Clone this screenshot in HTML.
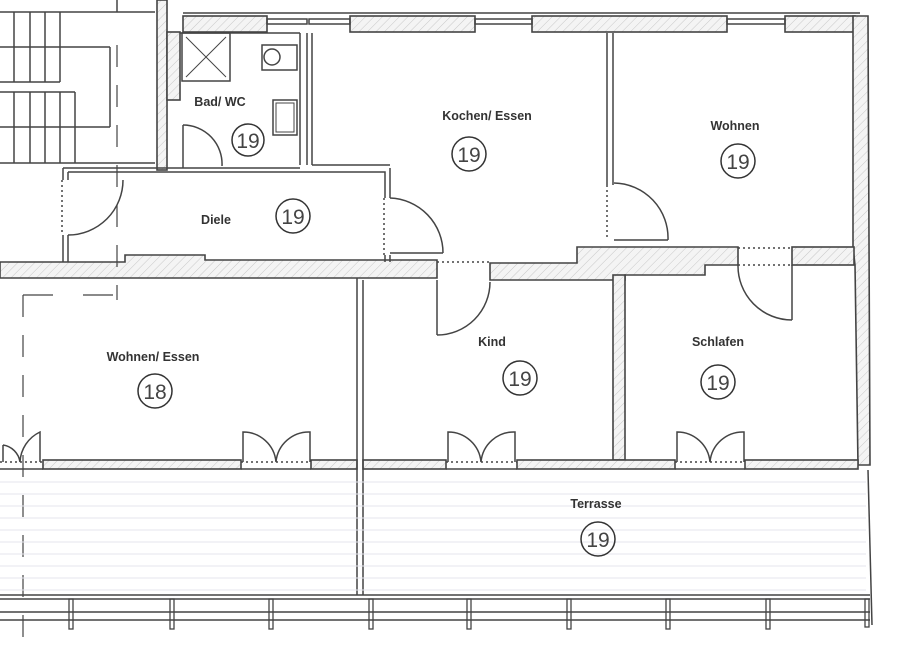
<!DOCTYPE html>
<html><head><meta charset="utf-8"><style>
html,body{margin:0;padding:0;background:#fff}
svg{display:block}
text{font-family:"Liberation Sans",sans-serif;fill:#333}
.l{font-size:12.5px;font-weight:bold;text-anchor:middle}
.n{font-size:21px;text-anchor:middle;fill:#444}
</style></head><body>
<svg width="900" height="653" viewBox="0 0 900 653" xmlns="http://www.w3.org/2000/svg">
<defs>
<pattern id="h" width="6" height="6" patternUnits="userSpaceOnUse" patternTransform="rotate(45)">
<rect width="6" height="6" fill="#f4f4f4"/><line x1="0" y1="0" x2="0" y2="6" stroke="#c8c8c8" stroke-width="1"/></pattern>
</defs>
<g stroke="#444" stroke-width="1.6" fill="url(#h)">
<rect x="157" y="0" width="10" height="170"/>
<rect x="167" y="32" width="13" height="68"/>
<rect x="183" y="16" width="84" height="16"/>
<rect x="350" y="16" width="125" height="16"/>
<rect x="532" y="16" width="195" height="16"/>
<rect x="785" y="16" width="70" height="16"/>
<polygon points="853,16 868,16 870,465 858,465 855,265 853,247"/>
<polygon points="0,262 125,262 125,255 205,255 205,260 437,260 437,278 0,278"/>
<polygon points="490,263 577,263 577,247 738,247 738,265 705,265 705,275 625,275 625,280 490,280"/>
<rect x="792" y="247" width="62" height="18"/>
<rect x="613" y="275" width="12" height="185"/>
<rect x="43" y="460" width="198" height="9"/>
<rect x="311" y="460" width="46" height="9"/>
<rect x="363" y="460" width="83" height="9"/>
<rect x="517" y="460" width="158" height="9"/>
<rect x="745" y="460" width="113" height="9"/>
</g>
<g stroke="#444" stroke-width="1.5" fill="none">
<line x1="183" y1="13" x2="860" y2="13"/>
<rect x="267" y="19" width="40" height="5"/><rect x="309" y="19" width="41" height="5"/>
<rect x="475" y="19" width="57" height="5"/>
<rect x="727" y="19" width="58" height="5"/>
<line x1="0" y1="12" x2="155" y2="12"/>
<line x1="0" y1="47" x2="110" y2="47"/><line x1="110" y1="47" x2="110" y2="127"/>
<line x1="0" y1="82" x2="60" y2="82"/>
<line x1="0" y1="92" x2="75" y2="92"/><line x1="75" y1="92" x2="75" y2="163"/>
<line x1="0" y1="127" x2="110" y2="127"/>
<line x1="0" y1="163" x2="155" y2="163"/>
<line x1="14" y1="12" x2="14" y2="82"/><line x1="30" y1="12" x2="30" y2="82"/><line x1="45" y1="12" x2="45" y2="82"/><line x1="60" y1="12" x2="60" y2="82"/>
<line x1="14" y1="92" x2="14" y2="163"/><line x1="30" y1="92" x2="30" y2="163"/><line x1="45" y1="92" x2="45" y2="163"/><line x1="60" y1="92" x2="60" y2="163"/>
<line x1="117" y1="0" x2="117" y2="12"/>
<line x1="117" y1="45" x2="117" y2="300" stroke-dasharray="22,18" stroke-width="1.2"/>
<line x1="23" y1="295" x2="23" y2="653" stroke-dasharray="22,18" stroke-width="1.2"/>
<line x1="23" y1="295" x2="117" y2="295" stroke-dasharray="30,30" stroke-width="1.2"/>
<line x1="180" y1="33" x2="300" y2="33"/>
<line x1="300" y1="33" x2="300" y2="165"/><line x1="307" y1="33" x2="307" y2="165"/>
<line x1="312" y1="33" x2="312" y2="165"/>
<rect x="182" y="33" width="48" height="48"/>
<line x1="186" y1="37" x2="226" y2="77" stroke-width="1"/><line x1="226" y1="37" x2="186" y2="77" stroke-width="1"/>
<rect x="262" y="45" width="35" height="25"/><circle cx="272" cy="57" r="8"/>
<rect x="273" y="100" width="24" height="35"/><rect x="276" y="103" width="18" height="29" stroke-width="1"/>
<line x1="183" y1="125" x2="183" y2="168"/>
<path d="M183,125 A39,39 0 0 1 222,166"/>
<polyline points="63,168 300,168"/>
<polyline points="68,172 385,172 385,198"/>
<polyline points="390,168 390,198"/>
<line x1="385" y1="255" x2="385" y2="262"/><line x1="390" y1="255" x2="390" y2="262"/>
<line x1="63" y1="168" x2="63" y2="180"/><line x1="68" y1="172" x2="68" y2="180"/>
<line x1="63" y1="235" x2="63" y2="262"/><line x1="68" y1="235" x2="68" y2="262"/>
<line x1="62" y1="180" x2="62" y2="235" stroke-dasharray="2,3"/>
<path d="M123,180 A55,55 0 0 1 68,235"/>
<line x1="384" y1="198" x2="384" y2="255" stroke-dasharray="2,3"/>
<line x1="390" y1="253" x2="443" y2="253"/>
<path d="M390,198 A55,55 0 0 1 443,253"/>
<polyline points="312,165 390,165"/>
<line x1="607" y1="33" x2="607" y2="185"/><line x1="613" y1="33" x2="613" y2="185"/>
<line x1="607" y1="185" x2="607" y2="240" stroke-dasharray="2,3"/>
<line x1="614" y1="240" x2="668" y2="240"/>
<path d="M614,183 A55,55 0 0 1 668,240"/>
<line x1="437" y1="262" x2="490" y2="262" stroke-dasharray="2,3"/>
<line x1="437" y1="280" x2="437" y2="335"/>
<path d="M437,335 A53,53 0 0 0 490,282"/>
<line x1="738" y1="248" x2="792" y2="248" stroke-dasharray="2,3"/>
<line x1="738" y1="265" x2="792" y2="265" stroke-dasharray="2,3"/>
<line x1="792" y1="265" x2="792" y2="320"/>
<path d="M738,265 A54,54 0 0 0 792,320"/>
<line x1="357" y1="278" x2="357" y2="595"/><line x1="363" y1="280" x2="363" y2="595"/>
<g>
<path d="M3,462 L3,445 M40,462 L40,432 A35,35 0 0 0 20,462 M3,445 A20,20 0 0 1 20,462"/>
<path d="M243,462 L243,432 A33,33 0 0 1 276,462 M310,462 L310,432 A33,33 0 0 0 276,462"/>
<path d="M448,462 L448,432 A33,33 0 0 1 481,462 M515,462 L515,432 A33,33 0 0 0 481,462"/>
<path d="M677,462 L677,432 A33,33 0 0 1 710,462 M744,462 L744,432 A33,33 0 0 0 710,462"/>
<line x1="0" y1="462" x2="43" y2="462" stroke-dasharray="2,3"/>
<line x1="241" y1="462" x2="311" y2="462" stroke-dasharray="2,3"/>
<line x1="446" y1="462" x2="517" y2="462" stroke-dasharray="2,3"/>
<line x1="675" y1="462" x2="745" y2="462" stroke-dasharray="2,3"/>
<line x1="0" y1="469" x2="43" y2="469"/><line x1="241" y1="469" x2="311" y2="469"/><line x1="446" y1="469" x2="517" y2="469"/><line x1="675" y1="469" x2="745" y2="469"/>
</g>
<line x1="868" y1="470" x2="872" y2="625"/>
<line x1="0" y1="595" x2="870" y2="595"/><line x1="0" y1="599" x2="870" y2="599"/>
<line x1="0" y1="612" x2="870" y2="612"/><line x1="0" y1="620" x2="870" y2="620"/>
<g stroke-width="1.3">
<rect x="69" y="599" width="4" height="30"/><rect x="170" y="599" width="4" height="30"/><rect x="269" y="599" width="4" height="30"/><rect x="369" y="599" width="4" height="30"/><rect x="467" y="599" width="4" height="30"/><rect x="567" y="599" width="4" height="30"/><rect x="666" y="599" width="4" height="30"/><rect x="766" y="599" width="4" height="30"/><rect x="865" y="599" width="4" height="28"/>
</g>
</g>
<g stroke="#e6e6ee" stroke-width="1">
<line x1="0" y1="482" x2="866" y2="482"/><line x1="0" y1="494" x2="866" y2="494"/><line x1="0" y1="506" x2="866" y2="506"/><line x1="0" y1="518" x2="866" y2="518"/><line x1="0" y1="530" x2="866" y2="530"/><line x1="0" y1="542" x2="866" y2="542"/><line x1="0" y1="554" x2="866" y2="554"/><line x1="0" y1="566" x2="866" y2="566"/><line x1="0" y1="578" x2="866" y2="578"/><line x1="0" y1="590" x2="866" y2="590"/>
</g>
<text class="l" x="220" y="106">Bad/ WC</text>
<circle cx="248" cy="140" r="16" fill="none" stroke="#333" stroke-width="1.5"/><text class="n" x="248" y="148">19</text>
<text class="l" x="216" y="224">Diele</text>
<circle cx="293" cy="216" r="17" fill="none" stroke="#333" stroke-width="1.5"/><text class="n" x="293" y="224">19</text>
<text class="l" x="487" y="120">Kochen/ Essen</text>
<circle cx="469" cy="154" r="17" fill="none" stroke="#333" stroke-width="1.5"/><text class="n" x="469" y="162">19</text>
<text class="l" x="735" y="130">Wohnen</text>
<circle cx="738" cy="161" r="17" fill="none" stroke="#333" stroke-width="1.5"/><text class="n" x="738" y="169">19</text>
<text class="l" x="153" y="361">Wohnen/ Essen</text>
<circle cx="155" cy="391" r="17" fill="none" stroke="#333" stroke-width="1.5"/><text class="n" x="155" y="399">18</text>
<text class="l" x="492" y="346">Kind</text>
<circle cx="520" cy="378" r="17" fill="none" stroke="#333" stroke-width="1.5"/><text class="n" x="520" y="386">19</text>
<text class="l" x="718" y="346">Schlafen</text>
<circle cx="718" cy="382" r="17" fill="none" stroke="#333" stroke-width="1.5"/><text class="n" x="718" y="390">19</text>
<text class="l" x="596" y="508">Terrasse</text>
<circle cx="598" cy="539" r="17" fill="none" stroke="#333" stroke-width="1.5"/><text class="n" x="598" y="547">19</text>
</svg>
</body></html>
